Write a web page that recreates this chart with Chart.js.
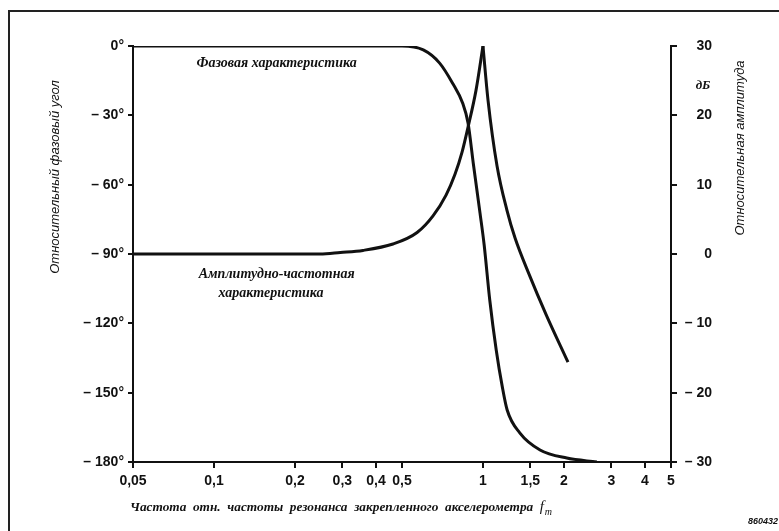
<!DOCTYPE html>
<html lang="ru">
<head>
<meta charset="UTF-8">
<title>Фазовая и амплитудно-частотная характеристика</title>
<script src="https://cdn.jsdelivr.net/npm/chart.js@4"></script>
<style>
  body { margin: 0; background: #fff; }
  #wrap { width: 779px; height: 531px; }
</style>
</head>
<body>
<div id="wrap"><canvas id="chart" width="779" height="531"></canvas></div>
<script>
// ось частот (отн. частоты резонанса), логарифмическая
const freqTicks = [0.05, 0.1, 0.2, 0.3, 0.4, 0.5, 1, 1.5, 2, 3, 4, 5];
const freqLabels = ['0,05', '0,1', '0,2', '0,3', '0,4', '0,5', '1', '1,5', '2', '3', '4', '5'];
// левая ось - фаза, правая - амплитуда
const phaseTicks = [0, -30, -60, -90, -120, -150, -180];
const phaseLabels = ['0°', '– 30°', '– 60°', '– 90°', '– 120°', '– 150°', '– 180°'];
const ampTicks = [30, 20, 10, 0, -10, -20, -30];
const ampLabels = ['30', '20', '10', '0', '– 10', '– 20', '– 30'];

// фазовая характеристика
const phaseFreq = [0.05, 0.5, 0.6, 0.69, 0.77, 0.84, 0.88, 0.92, 0.975, 1.01, 1.06, 1.12, 1.18, 1.23, 1.37, 1.63, 2.05, 2.65];
const phaseDeg = [0, 0, -1.7, -7.4, -16, -24.7, -33.3, -50.6, -72.3, -86, -110, -131.5, -147.5, -157.5, -167.4, -174.8, -178.3, -180];

// АЧХ: подъем до резонанса и спад после него
const ampFreqUp = [0.05, 0.248, 0.295, 0.358, 0.463, 0.569, 0.652, 0.729, 0.787, 0.836, 0.88, 0.942, 1.0];
const ampUp = [0, 0, 0.22, 0.52, 1.44, 3.1, 5.5, 8.5, 11.5, 14.7, 18.3, 23.6, 30];
const ampFreqDown = [1.0, 1.044, 1.128, 1.228, 1.316, 1.483, 1.715, 2.07];
const ampDown = [30, 22.2, 12.7, 6.3, 2.3, -2.9, -8.7, -15.6];

const ink = '#111';
const tickFont = { family: "'Liberation Sans', Arial, sans-serif", size: 14, weight: 'bold' };

function pts(xs, ys) {
  return xs.map((v, i) => ({ x: v, y: ys[i] }));
}

function curve(data, axis) {
  return {
    data: data,
    yAxisID: axis,
    borderColor: ink,
    borderWidth: 3,
    pointRadius: 0,
    fill: false,
    cubicInterpolationMode: 'monotone'
  };
}

// подписи и рамка
const decor = {
  id: 'decor',
  afterDraw(chart) {
    const { ctx, scales: { x, y } } = chart;
    ctx.save();
    ctx.strokeStyle = '#222';
    ctx.lineWidth = 2;
    ctx.beginPath();
    ctx.moveTo(9, 531);
    ctx.lineTo(9, 11);
    ctx.lineTo(779, 11);
    ctx.stroke();

    ctx.fillStyle = ink;
    ctx.textAlign = 'center';
    ctx.textBaseline = 'middle';
    ctx.font = "italic bold 14px 'Liberation Serif', serif";
    ctx.fillText('Фазовая характеристика', x.getPixelForValue(0.171), y.getPixelForValue(-7.4));
    ctx.fillText('Амплитудно-частотная', x.getPixelForValue(0.171), y.getPixelForValue(-99));
    ctx.fillText('характеристика', x.getPixelForValue(0.163), y.getPixelForValue(-106.9));

    // подпись оси частот
    ctx.textAlign = 'left';
    ctx.font = "italic bold 13.3px 'Liberation Serif', serif";
    const xt = 'Частота  отн.  частоты  резонанса  закрепленного  акселерометра  ';
    ctx.fillText(xt, 130, 508);
    const w = ctx.measureText(xt).width;
    ctx.font = "italic 15px 'Liberation Serif', serif";
    ctx.fillText('f', 130 + w, 507);
    ctx.font = "italic 10px 'Liberation Serif', serif";
    ctx.fillText('m', 130 + w + 5, 512);

    ctx.font = "italic bold 13px 'Liberation Serif', serif";
    ctx.textAlign = 'center';
    ctx.fillText('дБ', 703, 86);

    ctx.font = "italic bold 9px 'Liberation Sans', sans-serif";
    ctx.textAlign = 'right';
    ctx.fillText('860432', 778, 522);

    // заголовки осей (повернутые)
    ctx.font = "italic 13px 'Liberation Sans', sans-serif";
    ctx.textAlign = 'center';
    ctx.save();
    ctx.translate(55, 177);
    ctx.rotate(-Math.PI / 2);
    ctx.fillText('Относительный фазовый угол', 0, 0);
    ctx.restore();
    ctx.save();
    ctx.translate(740, 148);
    ctx.rotate(-Math.PI / 2);
    ctx.fillText('Относительная амплитуда', 0, 0);
    ctx.restore();
    ctx.restore();
  }
};

new Chart(document.getElementById('chart'), {
  type: 'line',
  data: {
    datasets: [
      curve(pts(phaseFreq, phaseDeg), 'y'),
      curve(pts(ampFreqUp, ampUp), 'y2'),
      curve(pts(ampFreqDown, ampDown), 'y2')
    ]
  },
  options: {
    responsive: false,
    animation: false,
    layout: { padding: { top: 46, left: 0, right: 67, bottom: 0 } },
    plugins: { legend: { display: false }, tooltip: { enabled: false } },
    scales: {
      x: {
        type: 'logarithmic',
        min: 0.05,
        max: 5,
        afterBuildTicks: s => { s.ticks = freqTicks.map(v => ({ value: v })); },
        afterFit: s => { s.height = 69; },
        grid: { drawOnChartArea: false, tickLength: 6, color: ink, lineWidth: 2 },
        border: { color: ink, width: 2 },
        ticks: {
          autoSkip: false, maxRotation: 0, padding: 5, color: ink, font: tickFont,
          callback: (v, i) => freqLabels[i]
        }
      },
      y: {
        position: 'left',
        min: -180,
        max: 0,
        afterBuildTicks: s => { s.ticks = phaseTicks.map(v => ({ value: v })); },
        afterFit: s => { s.width = 133; },
        grid: { drawOnChartArea: false, tickLength: 5, color: ink, lineWidth: 2 },
        border: { color: ink, width: 2 },
        ticks: { padding: 4, color: ink, font: tickFont, callback: (v, i) => phaseLabels[i] }
      },
      y2: {
        position: 'right',
        min: -30,
        max: 30,
        afterBuildTicks: s => { s.ticks = ampTicks.map(v => ({ value: v })); },
        afterFit: s => { s.width = 41; },
        grid: { drawOnChartArea: false, tickLength: 6, color: ink, lineWidth: 2 },
        border: { color: ink, width: 2 },
        ticks: { crossAlign: 'far', color: ink, font: tickFont, callback: (v, i) => ampLabels[i] }
      }
    }
  },
  plugins: [decor]
});
</script>
</body>
</html>
